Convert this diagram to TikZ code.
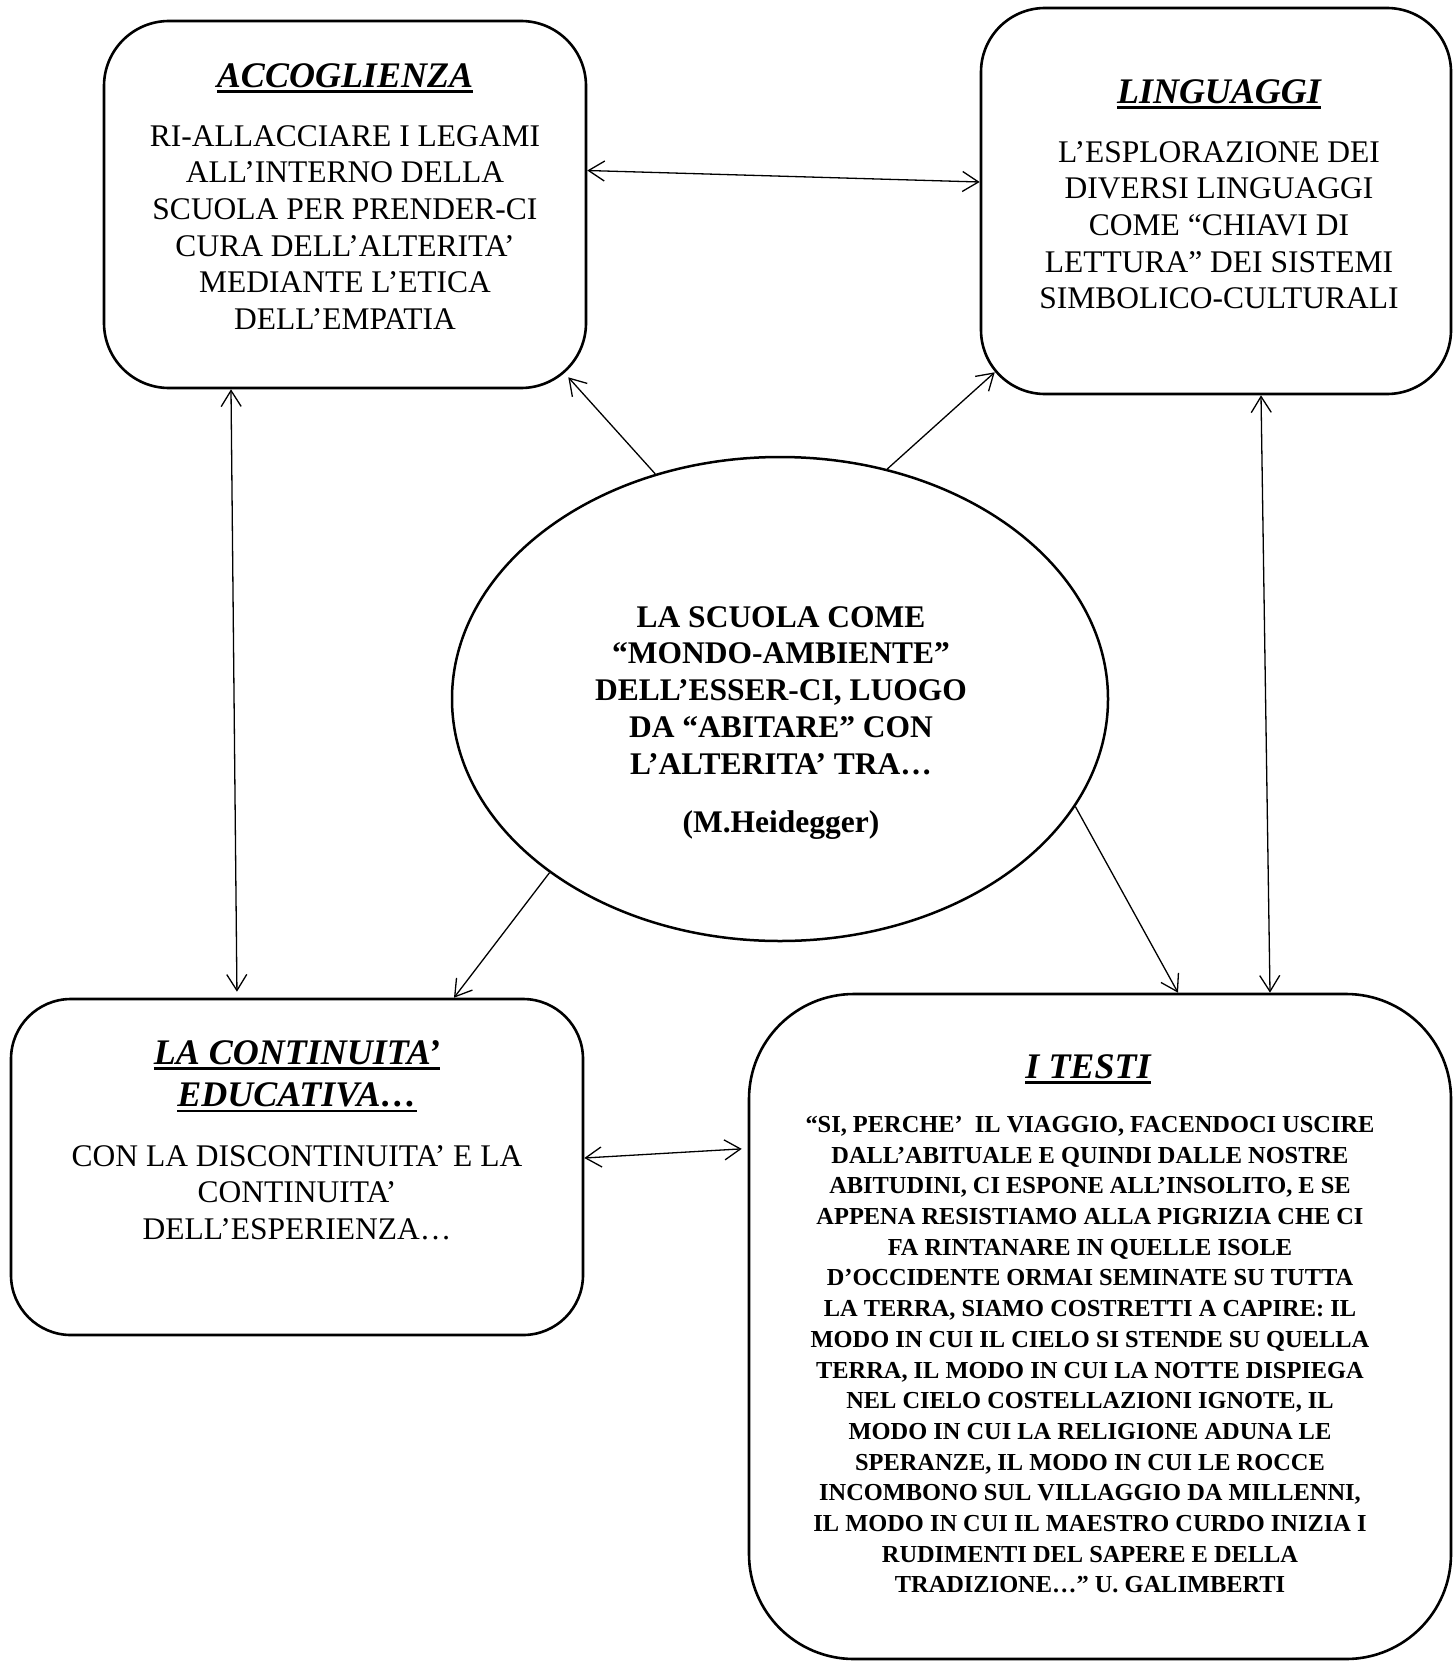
\documentclass[tikz,border=0pt]{standalone}
\usepackage{fontspec}
\setmainfont{Liberation Serif}
\usetikzlibrary{shapes.geometric,arrows.meta}

\newcommand{\ulbox}[1]{\vtop{\hbox{#1}\kern3pt\hrule height 2.6pt}}

\begin{document}
\begin{tikzpicture}[x=1pt,y=-1pt,
        box/.style={draw, line width=2.6pt, rounded corners=#1, inner sep=0pt},
        conn/.style={line width=1.3pt},
        >={Straight Barb[length=16pt,width=20pt]},
        headtxt/.style={font=\fontsize{36}{42}\selectfont\bfseries\itshape, inner sep=0pt},
        bodytxt/.style={font=\fontsize{31.5}{36.7}\selectfont, inner sep=0pt, align=center}]
    \useasboundingbox (0,0) rectangle (1454,1662);

    % boxes
    \node[box=65pt, minimum width=482pt, minimum height=367pt] (acc) at (345,204.5) {};
    \node[box=64pt, minimum width=470pt, minimum height=386pt] (lin) at (1216,201) {};
    \node[box=60pt, minimum width=572pt, minimum height=336pt] (cont) at (297,1167) {};
    \node[box=105pt, minimum width=702pt, minimum height=665pt] (testi) at (1100,1326.5) {};
    \node[draw, ellipse, line width=2.5pt, inner sep=0pt, minimum width=656pt, minimum height=484pt] (ell) at (780,699) {};

    % texts
    \node[headtxt, anchor=base] (acchead) at (345,87) {\ulbox{ACCOGLIENZA}};
    \node[bodytxt, anchor=north] (acctxt) at (345,125) {RI-ALLACCIARE I LEGAMI\\ ALL’INTERNO DELLA\\ SCUOLA PER PRENDER-CI\\ CURA DELL’ALTERITA’\\ MEDIANTE L’ETICA\\ DELL’EMPATIA};

    \node[headtxt, anchor=base] (linhead) at (1219,103) {\ulbox{LINGUAGGI}};
    \node[bodytxt, anchor=north] (lintxt) at (1219,141) {L’ESPLORAZIONE DEI\\ DIVERSI LINGUAGGI\\ COME “CHIAVI DI\\ LETTURA” DEI SISTEMI\\ SIMBOLICO-CULTURALI};

    \node[headtxt, anchor=north, align=center] (conthead) at (297,1040) {\ulbox{LA CONTINUITA’}\\ \ulbox{EDUCATIVA…}};
    \node[bodytxt, anchor=north] (conttxt) at (297,1145) {CON LA DISCONTINUITA’ E LA\\ CONTINUITA’\\ DELL’ESPERIENZA…};

    \node[headtxt, anchor=base] (testihead) at (1088,1078) {\ulbox{I TESTI}};
    \node[bodytxt, anchor=north, font=\fontsize{24.4}{30.7}\selectfont\bfseries] (testitxt) at (1090,1116) {“SI, PERCHE’~ IL VIAGGIO, FACENDOCI USCIRE\\ DALL’ABITUALE E QUINDI DALLE NOSTRE\\ ABITUDINI, CI ESPONE ALL’INSOLITO, E SE\\ APPENA RESISTIAMO ALLA PIGRIZIA CHE CI\\ FA RINTANARE IN QUELLE ISOLE\\ D’OCCIDENTE ORMAI SEMINATE SU TUTTA\\ LA TERRA, SIAMO COSTRETTI A CAPIRE: IL\\ MODO IN CUI IL CIELO SI STENDE SU QUELLA\\ TERRA, IL MODO IN CUI LA NOTTE DISPIEGA\\ NEL CIELO COSTELLAZIONI IGNOTE, IL\\ MODO IN CUI LA RELIGIONE ADUNA LE\\ SPERANZE, IL MODO IN CUI LE ROCCE\\ INCOMBONO SUL VILLAGGIO DA MILLENNI,\\ IL MODO IN CUI IL MAESTRO CURDO INIZIA I\\ RUDIMENTI DEL SAPERE E DELLA\\ TRADIZIONE…” U. GALIMBERTI};

    \node[bodytxt, anchor=north, font=\fontsize{31.5}{36.8}\selectfont\bfseries] (elltxt) at (781,606) {LA SCUOLA COME\\ “MONDO-AMBIENTE”\\ DELL’ESSER-CI, LUOGO\\ DA “ABITARE” CON\\ L’ALTERITA’ TRA…\\[21pt] (M.Heidegger)};

    % connectors
    \draw[conn, <->] ([yshift=34pt]acc.east) -- ([yshift=19pt]lin.west);
    \draw[conn, <->, shorten >=6pt] ([xshift=-114pt]acc.south) -- ([xshift=-60pt]cont.north);
    \draw[conn, <->] ([xshift=45pt]lin.south) -- ([xshift=170pt]testi.north);
    \draw[conn, <->, shorten >=6pt] ([yshift=9pt]cont.east) -- ([yshift=178pt]testi.west);
    \draw[conn, ->] (ell.119) -- ([xshift=-19pt,yshift=12pt]acc.south east);
    \draw[conn, ->] (ell.65) -- ([xshift=15pt,yshift=23pt]lin.south west);
    \draw[conn, ->] (ell.217) -- ([xshift=157pt]cont.north);
    \draw[conn, ->] (ell.-20) -- ([xshift=78pt]testi.north);
\end{tikzpicture}
\end{document}
